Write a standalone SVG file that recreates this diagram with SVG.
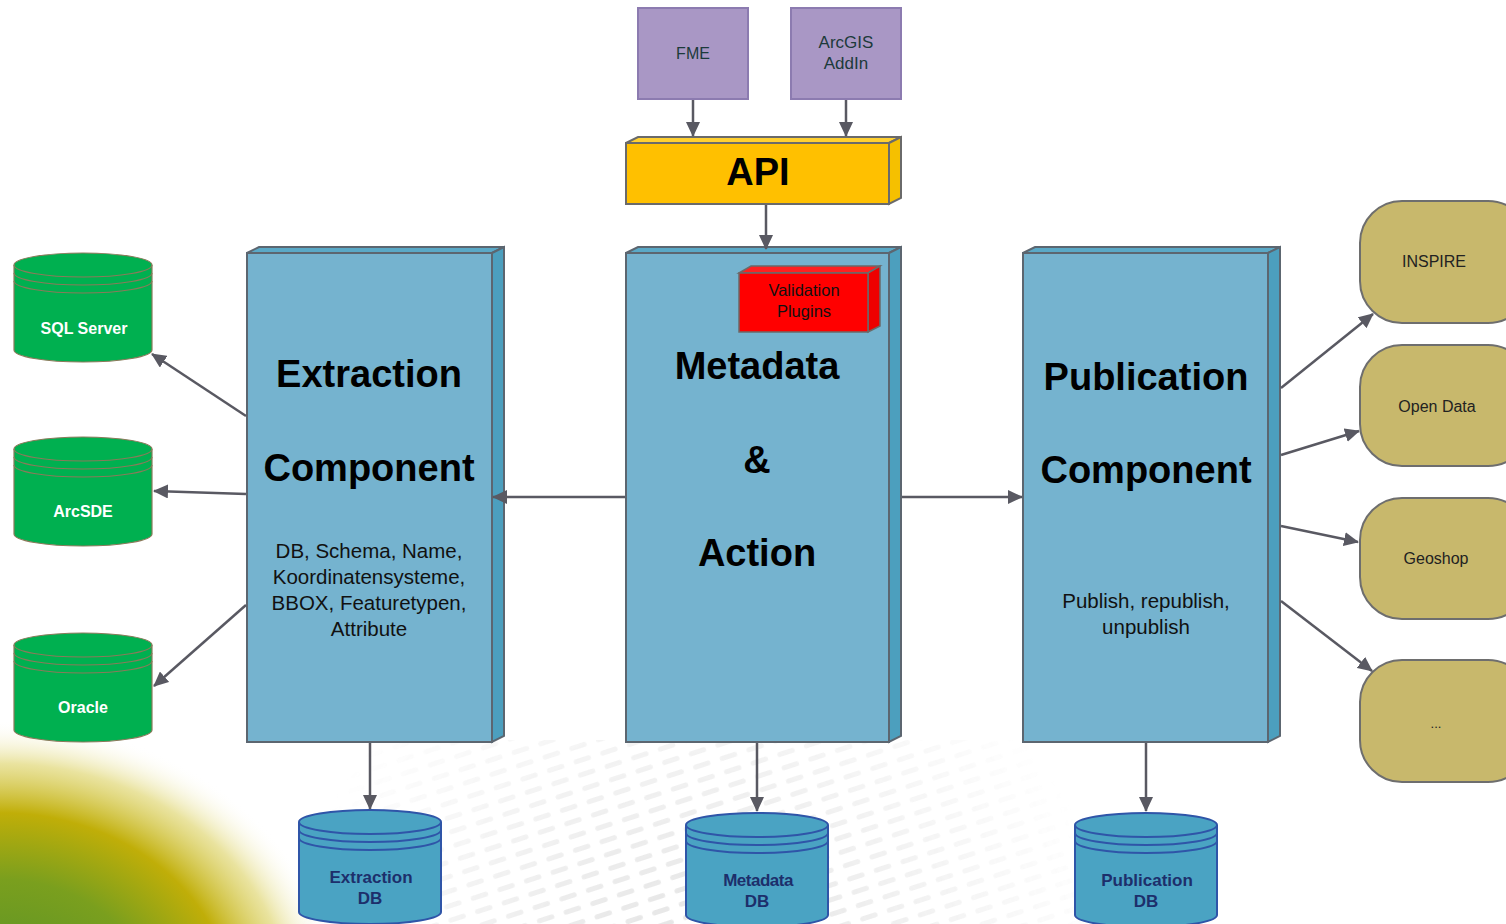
<svg xmlns="http://www.w3.org/2000/svg" width="1506" height="924" viewBox="0 0 1506 924">
<defs>
<style>
.t{font-family:"Liberation Sans",Arial,sans-serif;text-anchor:middle}
.title{font-size:38px;font-weight:bold;fill:#000}
.body{font-size:20.5px;fill:#111}
.front{fill:#75b3cf;stroke:#5c6670;stroke-width:2}
.side{fill:#4c9fbe;stroke:#5c6670;stroke-width:2}
.top{fill:#5aa9c7;stroke:#5c6670;stroke-width:2}
.conn{stroke:#595962;stroke-width:2.5;fill:none;marker-end:url(#ah)}
.gcyl{fill:#00b050;stroke:#8a7a5a;stroke-width:1.2}
.gl{fill:none;stroke:#8a7a5a;stroke-width:1.2}
.bcyl{fill:#4aa3c3;stroke:#2f55a8;stroke-width:2}
.bl{fill:none;stroke:#2f55a8;stroke-width:2}
.round{fill:#c8b86c;stroke:#6e6e6e;stroke-width:2}
.purple{fill:#a997c5;stroke:#8c7bb0;stroke-width:2}
.wl{font-size:16px;font-weight:bold;fill:#fff}
.nl{font-size:17px;font-weight:bold;fill:#1d2f6b}
.rl{font-size:16px;fill:#222}
</style>
<marker id="ah" markerWidth="16" markerHeight="14" refX="14" refY="7" orient="auto" markerUnits="userSpaceOnUse">
<path d="M0,0 L15,7 L0,14 Z" fill="#595962"/>
</marker>
<radialGradient id="bg" cx="0" cy="0" r="290" gradientUnits="userSpaceOnUse" gradientTransform="translate(0,1010) scale(1.18,1)">
<stop offset="0" stop-color="#4f8f2a"/>
<stop offset="0.45" stop-color="#7a9f1e"/>
<stop offset="0.68" stop-color="#c0ae08"/>
<stop offset="0.85" stop-color="#d8cc50" stop-opacity="0.55"/>
<stop offset="1" stop-color="#ffffff" stop-opacity="0"/>
</radialGradient>
<pattern id="dots" width="28" height="14" patternUnits="userSpaceOnUse" patternTransform="rotate(-18)">
<rect x="2" y="4" width="18" height="5" rx="2.5" fill="#d9d9d9"/>
</pattern>
<radialGradient id="fade" cx="700" cy="1000" r="420" gradientUnits="userSpaceOnUse">
<stop offset="0" stop-color="#fff" stop-opacity="1"/>
<stop offset="1" stop-color="#fff" stop-opacity="0"/>
</radialGradient>
<mask id="m1"><rect x="0" y="700" width="1506" height="224" fill="url(#fade)"/></mask>
</defs>
<rect width="1506" height="924" fill="#fff"/>
<g id="background">
<rect x="250" y="740" width="900" height="184" fill="url(#dots)" mask="url(#m1)" opacity="0.8"/>
<rect x="0" y="700" width="500" height="224" fill="url(#bg)"/>
</g>

<g id="fme">
<rect class="purple" x="638" y="8" width="110" height="91"/>
<text class="t" x="693" y="59" style="font-size:16px;fill:#1c3a3a">FME</text>
</g>
<g id="arcgis">
<rect class="purple" x="791" y="8" width="110" height="91"/>
<text class="t" x="846" y="48" style="font-size:17px;fill:#1c3a3a">ArcGIS</text>
<text class="t" x="846" y="69" style="font-size:17px;fill:#1c3a3a">AddIn</text>
</g>

<g id="api">
<polygon points="626,143 638,137 901,137 889,143" style="fill:#ffd030;stroke:#6a6a6a;stroke-width:2"/>
<polygon points="889,143 901,137 901,198 889,204" style="fill:#f5c000;stroke:#6a6a6a;stroke-width:2"/>
<rect x="626" y="143" width="263" height="61" style="fill:#ffc000;stroke:#6a6a6a;stroke-width:2"/>
<text class="t title" x="758" y="185">API</text>
</g>

<g id="extraction">
<polygon class="top" points="247,253 259,247 504,247 492,253"/>
<polygon class="side" points="492,253 504,247 504,736 492,742"/>
<rect class="front" x="247" y="253" width="245" height="489"/>
<text class="t title" x="369" y="387">Extraction</text>
<text class="t title" x="369" y="481">Component</text>
<text class="t body" x="369" y="558">DB, Schema, Name,</text>
<text class="t body" x="369" y="584">Koordinatensysteme,</text>
<text class="t body" x="369" y="610">BBOX, Featuretypen,</text>
<text class="t body" x="369" y="636">Attribute</text>
</g>

<g id="metadata">
<polygon class="top" points="626,253 638,247 901,247 889,253"/>
<polygon class="side" points="889,253 901,247 901,736 889,742"/>
<rect class="front" x="626" y="253" width="263" height="489"/>
<text class="t title" x="757" y="379">Metadata</text>
<text class="t title" x="757" y="473">&amp;</text>
<text class="t title" x="757" y="566">Action</text>
</g>

<g id="validation">
<polygon points="739,273 751,266 880,266 868,273" style="fill:#ff2020;stroke:#6a6a6a;stroke-width:1.5"/>
<polygon points="868,273 880,266 880,326 868,332" style="fill:#ee0000;stroke:#6a6a6a;stroke-width:1.5"/>
<rect x="739" y="273" width="129" height="59" style="fill:#ff0000;stroke:#6a6a6a;stroke-width:1.5"/>
<text class="t" x="804" y="296" style="font-size:16.5px;fill:#111">Validation</text>
<text class="t" x="804" y="317" style="font-size:16.5px;fill:#111">Plugins</text>
</g>

<g id="publication">
<polygon class="top" points="1023,253 1035,247 1280,247 1268,253"/>
<polygon class="side" points="1268,253 1280,247 1280,736 1268,742"/>
<rect class="front" x="1023" y="253" width="245" height="489"/>
<text class="t title" x="1146" y="390">Publication</text>
<text class="t title" x="1146" y="483">Component</text>
<text class="t body" x="1146" y="608">Publish, republish,</text>
<text class="t body" x="1146" y="634">unpublish</text>
</g>

<g id="sqlserver">
<path class="gcyl" d="M14,265 A69,12 0 0 1 152,265 L152,350 A69,12 0 0 1 14,350 Z"/>
<path class="gl" d="M14,265 A69,12 0 0 0 152,265 M14,273 A69,12 0 0 0 152,273 M14,281 A69,12 0 0 0 152,281"/>
<text class="t wl" x="84" y="334">SQL Server</text>
</g>
<g id="arcsde">
<path class="gcyl" d="M14,449 A69,12 0 0 1 152,449 L152,534 A69,12 0 0 1 14,534 Z"/>
<path class="gl" d="M14,449 A69,12 0 0 0 152,449 M14,457 A69,12 0 0 0 152,457 M14,465 A69,12 0 0 0 152,465"/>
<text class="t wl" x="83" y="517">ArcSDE</text>
</g>
<g id="oracle">
<path class="gcyl" d="M14,645 A69,12 0 0 1 152,645 L152,730 A69,12 0 0 1 14,730 Z"/>
<path class="gl" d="M14,645 A69,12 0 0 0 152,645 M14,653 A69,12 0 0 0 152,653 M14,661 A69,12 0 0 0 152,661"/>
<text class="t wl" x="83" y="713">Oracle</text>
</g>

<g id="extractiondb">
<path class="bcyl" d="M299,822 A71,12 0 0 1 441,822 L441,912 A71,12 0 0 1 299,912 Z"/>
<path class="bl" d="M299,822 A71,12 0 0 0 441,822 M299,830 A71,12 0 0 0 441,830 M299,838 A71,12 0 0 0 441,838"/>
<text class="t nl" x="371" y="883">Extraction</text>
<text class="t nl" x="370" y="904">DB</text>
</g>
<g id="metadatadb">
<path class="bcyl" d="M686,825 A71,12 0 0 1 828,825 L828,915 A71,12 0 0 1 686,915 Z"/>
<path class="bl" d="M686,825 A71,12 0 0 0 828,825 M686,833 A71,12 0 0 0 828,833 M686,841 A71,12 0 0 0 828,841"/>
<text class="t nl" x="758" y="886" style="letter-spacing:-0.5px">Metadata</text>
<text class="t nl" x="757" y="907">DB</text>
</g>
<g id="publicationdb">
<path class="bcyl" d="M1075,825 A71,12 0 0 1 1217,825 L1217,915 A71,12 0 0 1 1075,915 Z"/>
<path class="bl" d="M1075,825 A71,12 0 0 0 1217,825 M1075,833 A71,12 0 0 0 1217,833 M1075,841 A71,12 0 0 0 1217,841"/>
<text class="t nl" x="1147" y="886">Publication</text>
<text class="t nl" x="1146" y="907">DB</text>
</g>

<g id="inspire">
<rect class="round" x="1360" y="201" width="170" height="122" rx="42"/>
<text class="t rl" x="1434" y="267">INSPIRE</text>
</g>
<g id="opendata">
<rect class="round" x="1360" y="345" width="170" height="121" rx="42"/>
<text class="t rl" x="1437" y="412">Open Data</text>
</g>
<g id="geoshop">
<rect class="round" x="1360" y="498" width="170" height="121" rx="42"/>
<text class="t rl" x="1436" y="564">Geoshop</text>
</g>
<g id="more">
<rect class="round" x="1360" y="660" width="170" height="122" rx="42"/>
<text class="t rl" x="1436" y="728" style="font-size:13px">...</text>
</g>

<g id="connectors">
<line class="conn" x1="693" y1="100" x2="693" y2="136"/>
<line class="conn" x1="846" y1="100" x2="846" y2="136"/>
<line class="conn" x1="766" y1="205" x2="766" y2="249"/>
<line class="conn" x1="625" y1="497" x2="493" y2="497"/>
<line class="conn" x1="902" y1="497" x2="1022" y2="497"/>
<line class="conn" x1="246" y1="416" x2="152" y2="354"/>
<line class="conn" x1="246" y1="494" x2="154" y2="491"/>
<line class="conn" x1="246" y1="605" x2="154" y2="686"/>
<line class="conn" x1="370" y1="743" x2="370" y2="809"/>
<line class="conn" x1="757" y1="743" x2="757" y2="811"/>
<line class="conn" x1="1146" y1="743" x2="1146" y2="811"/>
<line class="conn" x1="1281" y1="388" x2="1373" y2="314"/>
<line class="conn" x1="1281" y1="455" x2="1359" y2="431"/>
<line class="conn" x1="1281" y1="526" x2="1358" y2="542"/>
<line class="conn" x1="1281" y1="601" x2="1372" y2="671"/>
</g>
</svg>
